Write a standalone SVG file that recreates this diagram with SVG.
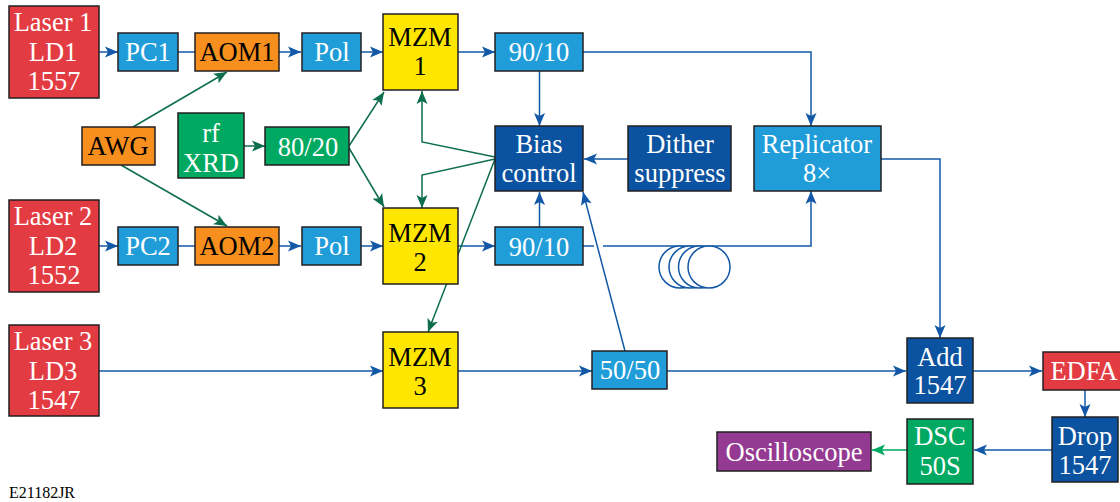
<svg xmlns="http://www.w3.org/2000/svg" width="1120" height="502" viewBox="0 0 1120 502">
<style>
text{font-family:"Liberation Serif","Times New Roman",serif;font-size:26.5px;text-anchor:middle}
.w{fill:#fff}.k{fill:#000}
rect{stroke:#231f20;stroke-width:1.5}
.red{fill:#e33b42}.lb{fill:#209dd9}.or{fill:#f78f1e}.ye{fill:#ffe600}.gr{fill:#00a962}.db{fill:#0b52a0}.pu{fill:#953a92}
.cb,.cg,.cl{fill:none;stroke-width:1.5}
.cb{stroke:#1258a6}.cg{stroke:#0d6e4b}.cl{stroke:#00a962}
.coil{fill:#fff}
</style>
<defs>
<marker id="ab" markerUnits="userSpaceOnUse" markerWidth="14" markerHeight="12" refX="13" refY="6" orient="auto"><path d="M0 0.500L13 6L0 11.500L3 6Z" fill="#1258a6"/></marker>
<marker id="ag" markerUnits="userSpaceOnUse" markerWidth="14" markerHeight="12" refX="13" refY="6" orient="auto"><path d="M0 0.500L13 6L0 11.500L3 6Z" fill="#0d6e4b"/></marker>
<marker id="al" markerUnits="userSpaceOnUse" markerWidth="14" markerHeight="12" refX="13" refY="6" orient="auto"><path d="M0 0.500L13 6L0 11.500L3 6Z" fill="#00a962"/></marker>
</defs>
<g id="connectors">
<g class="cb">
<path marker-end="url(#ab)" d="M99 52H118"/>
<path d="M178 52H195"/>
<path marker-end="url(#ab)" d="M279 52H301"/>
<path marker-end="url(#ab)" d="M361 52H383"/>
<path marker-end="url(#ab)" d="M458 52H495"/>
<path marker-end="url(#ab)" d="M583 52H811V126"/>
<path marker-end="url(#ab)" d="M539.500 71V126"/>
<path marker-end="url(#ab)" d="M628 159H584"/>
<path marker-end="url(#ab)" d="M539.500 227V192"/>
<path marker-end="url(#ab)" d="M99 246H118"/>
<path d="M178 246H195"/>
<path marker-end="url(#ab)" d="M279 246H301"/>
<path marker-end="url(#ab)" d="M361 246H383"/>
<path marker-end="url(#ab)" d="M458 246H495"/>
<path d="M583 246H594"/>
<path marker-end="url(#ab)" d="M603 246H811V191"/>
<circle class="coil" cx="680" cy="267" r="21"/><circle class="coil" cx="690" cy="267" r="21"/><circle class="coil" cx="699.500" cy="267" r="21"/><circle class="coil" cx="709" cy="267" r="21"/>
<path marker-end="url(#ab)" d="M99 371H383"/>
<path marker-end="url(#ab)" d="M458 371H592"/>
<path marker-end="url(#ab)" d="M667 371H906"/>
<path marker-end="url(#ab)" d="M625 351L583 192"/>
<path marker-end="url(#ab)" d="M881 159H940V338"/>
<path marker-end="url(#ab)" d="M973 371H1042"/>
<path marker-end="url(#ab)" d="M1085 390V417"/>
<path marker-end="url(#ab)" d="M1052 450H974"/>
</g>
<g class="cg">
<path marker-end="url(#ag)" d="M133 127L227 72"/>
<path marker-end="url(#ag)" d="M121 165L227 226"/>
<path marker-end="url(#ag)" d="M244 146H265"/>
<path marker-end="url(#ag)" d="M349 146L384 92"/>
<path marker-end="url(#ag)" d="M349 148L384 207"/>
<path marker-end="url(#ag)" d="M495 157L422 142V91"/>
<path marker-end="url(#ag)" d="M495 159L422 175V208"/>
<path marker-end="url(#ag)" d="M495 159L428 332"/>
</g>
<path class="cl" marker-end="url(#al)" d="M907 450H872"/>
</g>
<g id="laser1"><rect class="red" x="9" y="6" width="90" height="92"/><text class="w" x="53" y="31">Laser 1</text><text class="w" x="53" y="61">LD1</text><text class="w" x="54" y="90">1557</text></g>
<g id="pc1"><rect class="lb" x="118" y="33" width="60" height="38"/><text class="w" x="148" y="61">PC1</text></g>
<g id="aom1"><rect class="or" x="195" y="33" width="84" height="38"/><text class="k" x="237" y="61">AOM1</text></g>
<g id="pol1"><rect class="lb" x="302" y="33" width="59" height="38"/><text class="w" x="332" y="61">Pol</text></g>
<g id="mzm1"><rect class="ye" x="383" y="14" width="75" height="76"/><text class="k" x="420" y="46">MZM</text><text class="k" x="420" y="75">1</text></g>
<g id="split1"><rect class="lb" x="495" y="33" width="88" height="38"/><text class="w" x="539" y="61">90/10</text></g>
<g id="awg"><rect class="or" x="82" y="127" width="73" height="38"/><text class="k" x="118" y="155">AWG</text></g>
<g id="rfxrd"><rect class="gr" x="178" y="113" width="66" height="65"/><text class="w" x="211" y="142">rf</text><text class="w" x="211" y="172">XRD</text></g>
<g id="split8020"><rect class="gr" x="265" y="127" width="84" height="38"/><text class="w" x="308" y="156">80/20</text></g>
<g id="bias"><rect class="db" x="495" y="126" width="88" height="65"/><text class="w" x="539" y="153">Bias</text><text class="w" x="539" y="182">control</text></g>
<g id="dither"><rect class="db" x="628" y="126" width="103" height="65"/><text class="w" x="680" y="153">Dither</text><text class="w" x="680" y="182">suppress</text></g>
<g id="replicator"><rect class="lb" x="754" y="126" width="127" height="65"/><text class="w" x="817" y="153">Replicator</text><text class="w" x="817" y="182">8×</text></g>
<g id="laser2"><rect class="red" x="9" y="200" width="90" height="92"/><text class="w" x="53" y="225">Laser 2</text><text class="w" x="53" y="255">LD2</text><text class="w" x="54" y="284">1552</text></g>
<g id="pc2"><rect class="lb" x="118" y="227" width="60" height="38"/><text class="w" x="148" y="255">PC2</text></g>
<g id="aom2"><rect class="or" x="195" y="227" width="84" height="38"/><text class="k" x="237" y="255">AOM2</text></g>
<g id="pol2"><rect class="lb" x="302" y="227" width="59" height="38"/><text class="w" x="332" y="255">Pol</text></g>
<g id="mzm2"><rect class="ye" x="383" y="208" width="75" height="76"/><text class="k" x="420" y="242">MZM</text><text class="k" x="420" y="271">2</text></g>
<g id="split2"><rect class="lb" x="495" y="227" width="88" height="38"/><text class="w" x="539" y="256">90/10</text></g>
<g id="laser3"><rect class="red" x="9" y="325" width="90" height="91"/><text class="w" x="53" y="350">Laser 3</text><text class="w" x="53" y="380">LD3</text><text class="w" x="54" y="409">1547</text></g>
<g id="mzm3"><rect class="ye" x="383" y="332" width="75" height="76"/><text class="k" x="420" y="366">MZM</text><text class="k" x="420" y="395">3</text></g>
<g id="split5050"><rect class="lb" x="592" y="351" width="75" height="38"/><text class="w" x="630" y="379">50/50</text></g>
<g id="add"><rect class="db" x="907" y="338" width="66" height="65"/><text class="w" x="940" y="366">Add</text><text class="w" x="940" y="394">1547</text></g>
<g id="edfa"><rect class="red" x="1043" y="352" width="78" height="38"/><text class="w" x="1084" y="380">EDFA</text></g>
<g id="drop"><rect class="db" x="1052" y="417" width="66" height="65"/><text class="w" x="1085" y="445">Drop</text><text class="w" x="1085" y="474">1547</text></g>
<g id="dsc"><rect class="gr" x="907" y="419" width="66" height="65"/><text class="w" x="940" y="445">DSC</text><text class="w" x="940" y="475">50S</text></g>
<g id="osc"><rect class="pu" x="717" y="432" width="154" height="39"/><text class="w" x="794" y="461">Oscilloscope</text></g>
<text x="42" y="498" style="font-size:16px" class="k">E21182JR</text>
</svg>
